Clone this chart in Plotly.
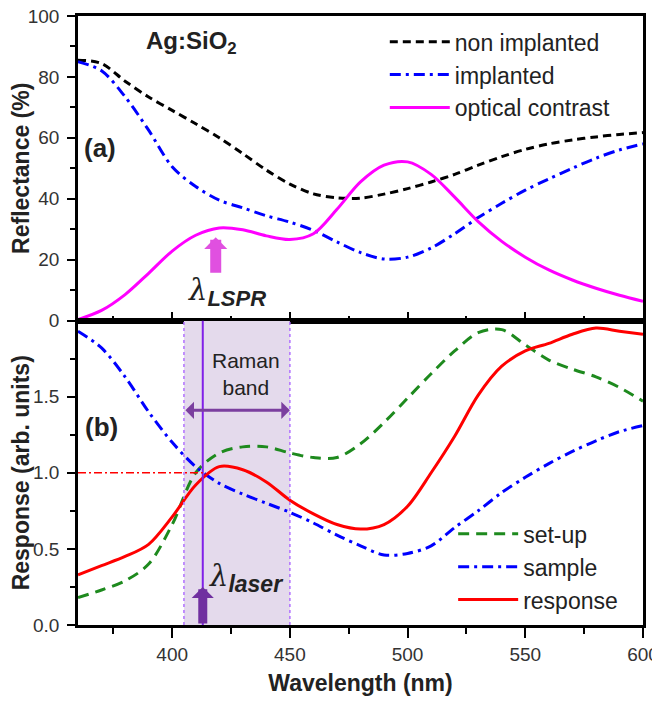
import plotly.graph_objects as go
from plotly.subplots import make_subplots

# ---------------- data ----------------
wavelength = [360, 370, 380, 390, 400, 410, 420, 430, 440, 450, 460, 470, 480,
              490, 500, 510, 520, 530, 540, 550, 560, 570, 580, 590, 600]

# (a) reflectance (%)
non_implanted = [85.5, 84.4, 78.6, 73.4, 69.0, 64.6, 60.0, 54.8, 49.4, 44.8, 41.6, 40.3, 40.2,
                 41.5, 43.3, 45.5, 48.0, 51.0, 53.8, 56.2, 58.0, 59.3, 60.3, 61.1, 61.7]
implanted = [85.0, 82.0, 73.5, 62.5, 50.5, 44.0, 39.5, 37.0, 34.4, 32.3, 29.6, 25.8, 22.3,
             20.2, 20.8, 23.8, 28.5, 33.8, 38.5, 42.8, 46.5, 50.0, 53.3, 56.0, 58.0]
optical_contrast = [0.3, 3.3, 8.5, 15.5, 22.8, 28.0, 30.4, 29.8, 27.8, 26.6, 28.5, 36.5, 45.5,
                    51.0, 52.1, 48.0, 40.5, 32.5, 26.0, 20.8, 16.6, 13.3, 10.6, 8.3, 6.3]

# (b) response (arb. units)
setup = [0.18, 0.23, 0.29, 0.40, 0.66, 1.00, 1.13, 1.17, 1.17, 1.13, 1.10, 1.10, 1.19,
         1.33, 1.49, 1.65, 1.80, 1.92, 1.94, 1.84, 1.74, 1.68, 1.63, 1.56, 1.47]
sample = [1.93, 1.82, 1.63, 1.40, 1.20, 1.04, 0.93, 0.86, 0.80, 0.74, 0.67, 0.59, 0.52,
          0.46, 0.47, 0.52, 0.64, 0.75, 0.87, 0.97, 1.06, 1.14, 1.21, 1.27, 1.31]
response = [0.33, 0.39, 0.45, 0.53, 0.71, 0.92, 1.04, 1.02, 0.94, 0.82, 0.73, 0.66, 0.63,
            0.66, 0.78, 1.00, 1.24, 1.51, 1.70, 1.80, 1.85, 1.91, 1.95, 1.93, 1.91]

x_ticks = [400, 450, 500, 550, 600]
y1_ticks = [0, 20, 40, 60, 80, 100]
y2_ticks = [0.0, 0.5, 1.0, 1.5]

laser_nm = 413
band_lo, band_hi = 405, 450
lspr_nm = 418.5
raman_arrow_level = 1.41

FONT = "Liberation Sans, Arial, sans-serif"
SERIF = "DejaVu Serif, Liberation Serif, serif"

fig = make_subplots(rows=2, cols=1, shared_xaxes=False, vertical_spacing=0)

# top panel traces
fig.add_trace(go.Scatter(x=wavelength, y=non_implanted, name="non implanted", mode="lines",
                         line=dict(color="black", width=3, dash="8px,5px", shape="spline", smoothing=0.9),
                         legend="legend"), row=1, col=1)
fig.add_trace(go.Scatter(x=wavelength, y=implanted, name="implanted", mode="lines",
                         line=dict(color="#0000FF", width=3, dash="11px,5px,3px,5px", shape="spline", smoothing=0.9),
                         legend="legend"), row=1, col=1)
fig.add_trace(go.Scatter(x=wavelength, y=optical_contrast, name="optical contrast", mode="lines",
                         line=dict(color="#FF00FF", width=3, shape="spline", smoothing=0.9),
                         legend="legend"), row=1, col=1)

# bottom panel traces
fig.add_trace(go.Scatter(x=wavelength, y=setup, name="set-up", mode="lines",
                         line=dict(color="#1E8A1E", width=3, dash="11px,7px", shape="spline", smoothing=0.9),
                         legend="legend2"), row=2, col=1)
fig.add_trace(go.Scatter(x=wavelength, y=sample, name="sample", mode="lines",
                         line=dict(color="#0000FF", width=3, dash="11px,5px,3px,5px", shape="spline", smoothing=0.9),
                         legend="legend2"), row=2, col=1)
fig.add_trace(go.Scatter(x=wavelength, y=response, name="response", mode="lines",
                         line=dict(color="#FF0000", width=3, shape="spline", smoothing=0.9),
                         legend="legend2"), row=2, col=1)

# shapes in bottom panel
fig.add_shape(type="rect", xref="x2", yref="y2", x0=band_lo, x1=band_hi, y0=0, y1=2,
              fillcolor="#E4DAEC", line=dict(width=0), layer="below")
for xv in (band_lo, band_hi):
    fig.add_shape(type="line", xref="x2", yref="y2", x0=xv, x1=xv, y0=0, y1=2,
                  line=dict(color="#B070FF", width=1.5, dash="dot"), layer="above")
fig.add_shape(type="line", xref="x2", yref="y2", x0=laser_nm, x1=laser_nm, y0=0, y1=2,
              line=dict(color="#8020E8", width=2), layer="above")
fig.add_shape(type="line", xref="x2", yref="y2", x0=360, x1=laser_nm, y0=1.0, y1=1.0,
              line=dict(color="#FF0000", width=1.3, dash="8px,3px,2px,3px"), layer="above")

ax_common = dict(showline=True, linecolor="black", linewidth=2.5, mirror=True,
                 showgrid=False, zeroline=False, tickcolor="black", tickwidth=2, automargin=False)

fig.update_xaxes(range=[360, 600], tickvals=x_ticks, ticks="inside", ticklen=9,
                 showticklabels=False,
                 minor=dict(ticks="inside", dtick=25, tick0=0, ticklen=5, tickcolor="black", tickwidth=2),
                 **ax_common, row=1, col=1)
fig.update_xaxes(range=[360, 600], tickvals=x_ticks, ticks="outside", ticklen=10,
                 tickfont=dict(family=FONT, size=19, color="#333"), ticklabeloverflow="allow",
                 minor=dict(ticks="outside", dtick=25, tick0=0, ticklen=6, tickcolor="black", tickwidth=2),
                 title=dict(text="<b>Wavelength (nm)</b>", font=dict(family=FONT, size=23, color="#222"), standoff=12),
                 **ax_common, row=2, col=1)
fig.update_yaxes(range=[0, 100], tickvals=y1_ticks, ticks="outside", ticklen=8,
                 tickfont=dict(family=FONT, size=19, color="#333"), ticklabelstandoff=4,
                 ticklabeloverflow="allow",
                 minor=dict(ticks="outside", dtick=10, tick0=0, ticklen=5, tickcolor="black", tickwidth=2),
                 title=dict(text="<b>Reflectance (%)</b>", font=dict(family=FONT, size=23, color="#222"), standoff=2),
                 domain=[0.5, 1.0], **ax_common, row=1, col=1)
fig.update_yaxes(range=[0, 2.0], tickvals=y2_ticks, tickformat=".1f", ticks="outside", ticklen=8,
                 tickfont=dict(family=FONT, size=19, color="#333"), ticklabelstandoff=4,
                 ticklabeloverflow="allow",
                 minor=dict(ticks="outside", tickvals=[0.25, 0.75, 1.25, 1.75], ticklen=5, tickcolor="black", tickwidth=2),
                 title=dict(text="<b>Response (arb. units)</b>",
                            font=dict(family=FONT, size=23, color="#222"), standoff=2),
                 domain=[0.0, 0.5], **ax_common, row=2, col=1)

lam = f'<span style="font-family:{SERIF};font-style:italic">λ</span>'
annotations = [
    dict(xref="x", yref="y", x=408, y=91.4, text="<b>Ag:SiO<sub>2</sub></b>", showarrow=False,
         font=dict(family=FONT, size=24, color="#222")),
    dict(xref="x", yref="y", x=369.5, y=56.8, text="<b>(a)</b>", showarrow=False,
         font=dict(family=FONT, size=26, color="#222")),
    dict(xref="x2", yref="y2", x=370, y=1.30, text="<b>(b)</b>", showarrow=False,
         font=dict(family=FONT, size=26, color="#222")),
    dict(xref="x2", yref="y2", x=431.5, y=1.65, text="Raman<br>band", showarrow=False,
         font=dict(family=FONT, size=21, color="#222")),
    dict(xref="x", yref="y", x=423.5, y=9.5,
         text=lam + '<sub><span style="font-size:22px"><b><i>LSPR</i></b></span></sub>',
         showarrow=False, font=dict(family=FONT, size=29, color="#222")),
    dict(xref="x2", yref="y2", x=431.5, y=0.31,
         text=lam + '<sub><span style="font-size:23px"><b><i>laser</i></b></span></sub>',
         showarrow=False, font=dict(family=FONT, size=29, color="#222")),
    # arrows
    dict(xref="x", yref="y", axref="x", ayref="y", x=lspr_nm, y=27.3, ax=lspr_nm, ay=15.2,
         text="", showarrow=True, arrowhead=1, arrowsize=0.35, arrowwidth=11, arrowcolor="#E050E0"),
    dict(xref="x2", yref="y2", axref="x2", ayref="y2", x=laser_nm, y=0.25, ax=laser_nm, ay=0.0,
         text="", showarrow=True, arrowhead=1, arrowsize=0.41, arrowwidth=9, arrowcolor="#7030A0"),
    dict(xref="x2", yref="y2", axref="x2", ayref="y2", x=band_hi, y=raman_arrow_level,
         ax=band_lo, ay=raman_arrow_level, text="", showarrow=True, arrowside="end+start",
         arrowhead=1, startarrowhead=1, arrowsize=0.95, startarrowsize=0.95, arrowwidth=3,
         arrowcolor="#7B3F9F"),
]

# the page body has an 8px margin, so the figure is 8px smaller than the window
fig.update_layout(
    width=652, height=697,
    margin=dict(l=70, r=17, t=8, b=80, autoexpand=False),
    paper_bgcolor="white", plot_bgcolor="white",
    font=dict(family=FONT, color="#222"),
    annotations=annotations,
    legend=dict(x=0.543, y=0.993, xanchor="left", yanchor="top", bgcolor="rgba(0,0,0,0)",
                font=dict(family=FONT, size=23, color="#222"), itemwidth=60, tracegroupgap=0),
    legend2=dict(x=0.664, y=0.185, xanchor="left", yanchor="top", bgcolor="rgba(0,0,0,0)",
                 font=dict(family=FONT, size=23, color="#222"), itemwidth=60, tracegroupgap=0),
    showlegend=True,
)

fig.write_html("out.html")
